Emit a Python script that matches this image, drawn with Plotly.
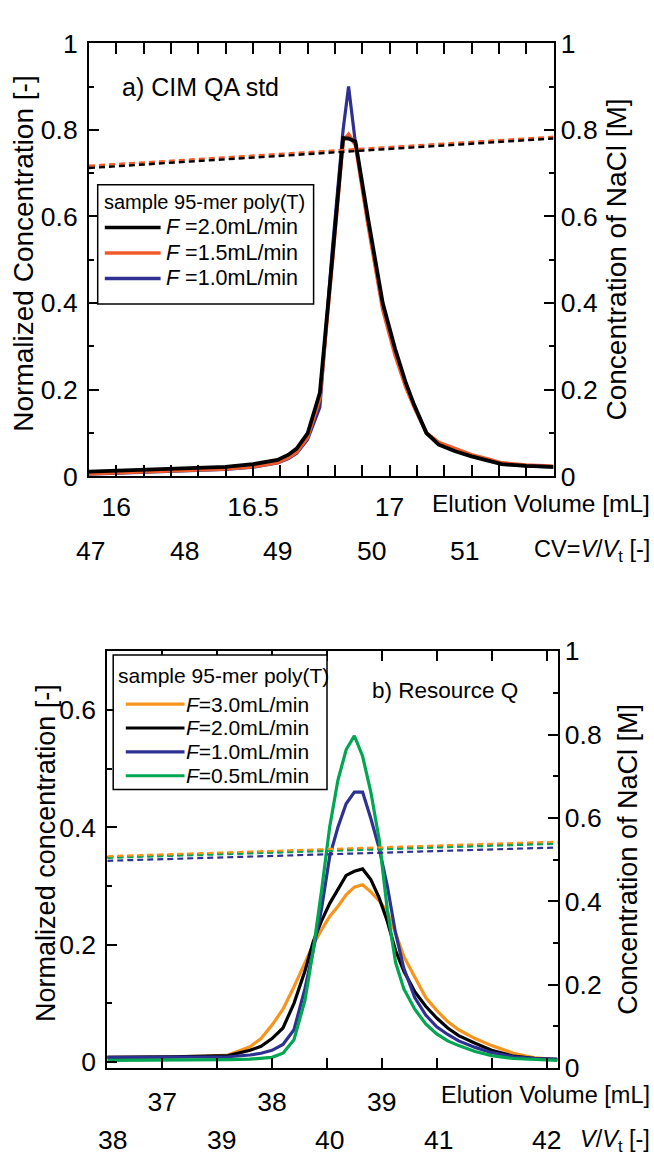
import plotly.graph_objects as go

# ---------------- data: panel a) CIM QA std ----------------
vol_a = [15.9, 16.0, 16.1, 16.2, 16.3, 16.4, 16.5, 16.55, 16.59, 16.63, 16.66, 16.70, 16.745,
         16.79, 16.83, 16.85, 16.875, 16.92, 16.975, 17.02, 17.06, 17.09, 17.135, 17.18, 17.24,
         17.3, 17.36, 17.41, 17.5, 17.6]
conc_a_20 = [.011, .013, .015, .017, .019, .022, .028, .033, .038, .05, .064, .099, .193, .50, .781,
             .78, .773, .60, .40, .295, .215, .165, .10, .073, .058, .046, .036, .028, .024, .022]
conc_a_15 = [.006, .008, .010, .012, .014, .017, .022, .027, .032, .043, .056, .09, .18, .49, .775,
             .79, .765, .585, .385, .28, .205, .16, .10, .078, .063, .05, .04, .031, .026, .023]
conc_a_10 = [.005, .007, .009, .011, .013, .016, .021, .026, .031, .041, .053, .085, .16, .52, .80,
             .90, .77, .59, .39, .285, .21, .162, .10, .075, .06, .047, .037, .029, .024, .021]
nacl_a_x = [15.9, 17.6]
nacl_a_20 = [0.712, 0.780]
nacl_a_15 = [0.717, 0.784]
flows_a = ["2.0", "1.5", "1.0"]
colors_a = ["#000000", "#f15a29", "#2e3192"]
xticks_a = [16, 16.5, 17]
xticktext_a = ["16", "16.5", "17"]
cv_ticks_a = [47, 48, 49, 50, 51]
vt_a = 0.342          # column volume [mL]
cv_offset_a = 0.167   # mL

# ---------------- data: panel b) Resource Q ----------------
vol_b = [36.5, 36.8, 37.1, 37.4, 37.6, 37.8, 37.9, 38.0, 38.1, 38.2, 38.3, 38.375, 38.45, 38.525,
         38.6, 38.675, 38.75, 38.825, 38.9, 38.975, 39.05, 39.125, 39.2, 39.3, 39.4, 39.5, 39.6,
         39.7, 39.85, 40.0, 40.2, 40.4, 40.6]
conc_b_30 = [.008, .008, .009, .010, .012, .026, .04, .063, .09, .128, .168, .20, .225, .248,
             .265, .285, .298, .302, .29, .275, .256, .22, .18, .145, .11, .088, .069, .055, .04,
             .028, .015, .007, .004]
conc_b_20 = [.008, .008, .009, .010, .011, .02, .027, .04, .058, .10, .155, .205, .24, .27,
             .295, .318, .325, .329, .311, .28, .24, .19, .155, .12, .095, .075, .058, .045, .032,
             .02, .01, .006, .004]
conc_b_10 = [.008, .008, .008, .008, .009, .012, .015, .02, .03, .055, .125, .19, .26, .35,
             .40, .44, .46, .46, .415, .365, .30, .22, .16, .11, .08, .06, .047, .036, .025,
             .016, .009, .006, .005]
conc_b_05 = [.003, .003, .003, .003, .004, .005, .006, .008, .015, .038, .105, .19, .29, .40,
             .48, .532, .556, .521, .46, .38, .26, .17, .125, .09, .065, .048, .036, .028, .018,
             .011, .006, .004, .003]
nacl_b_x = [36.5, 40.6]
nacl_b_30 = [0.508, 0.543]
nacl_b_20 = [0.506, 0.541]
nacl_b_10 = [0.497, 0.529]
nacl_b_05 = [0.504, 0.538]
flows_b = ["3.0", "2.0", "1.0", "0.5"]
colors_b = ["#f7941d", "#000000", "#2e3192", "#00a651"]
xticks_b = [37, 38, 39]
xticktext_b = ["37", "38", "39"]
vvt_ticks_b = [38, 39, 40, 41, 42]
vt_b = 0.988
vvt_offset_b = 0.995

# ---------------- figure ----------------
W, H = 654, 1167
FONT = "Liberation Sans, Arial, Helvetica, sans-serif"


def px(x):
    return x / W


def py(y):
    return 1 - y / H


fig = go.Figure()

# panel a solid curves (blue below, black on top)
for ys, col, wd in [(conc_a_10, colors_a[2], 3.2), (conc_a_15, colors_a[1], 3.6), (conc_a_20, colors_a[0], 3.8)]:
    fig.add_trace(go.Scatter(x=vol_a, y=ys, mode="lines", line=dict(color=col, width=wd),
                             xaxis="x", yaxis="y", showlegend=False))
for ys, col in [(nacl_a_15, colors_a[1]), (nacl_a_20, colors_a[0])]:
    fig.add_trace(go.Scatter(x=nacl_a_x, y=ys, mode="lines",
                             line=dict(color=col, width=2.4, dash="6px,4px"),
                             xaxis="x", yaxis="y2", showlegend=False))

# panel b
for ys, col in [(conc_b_30, colors_b[0]), (conc_b_20, colors_b[1]), (conc_b_10, colors_b[2]), (conc_b_05, colors_b[3])]:
    fig.add_trace(go.Scatter(x=vol_b, y=ys, mode="lines", line=dict(color=col, width=3.2),
                             xaxis="x2", yaxis="y3", showlegend=False))
for ys, col in [(nacl_b_20, colors_b[1]), (nacl_b_05, colors_b[3]), (nacl_b_30, colors_b[0]), (nacl_b_10, colors_b[2])]:
    fig.add_trace(go.Scatter(x=nacl_b_x, y=ys, mode="lines",
                             line=dict(color=col, width=2.2, dash="6px,4px"),
                             xaxis="x2", yaxis="y4", showlegend=False))

tickfont = dict(family=FONT, size=26.5, color="black")
common = dict(showgrid=False, zeroline=False, showline=True, linewidth=2, linecolor="black",
              ticks="inside", tickwidth=1.5, tickcolor="black", tickfont=tickfont)


def minor(d, ln):
    return dict(dtick=d, tick0=0, ticks="inside", ticklen=ln, tickwidth=1.5, tickcolor="black")


yt = [0, 0.2, 0.4, 0.6, 0.8, 1]
ytt = ["0", "0.2", "0.4", "0.6", "0.8", "1"]

fig.update_layout(
    width=W, height=H, autosize=False,
    margin=dict(l=0, r=0, t=0, b=0),
    paper_bgcolor="white", plot_bgcolor="white",
    font=dict(family=FONT, color="black"),
    xaxis=dict(domain=[px(89), px(553.5)], range=[15.9, 17.6], anchor="y",
               tickvals=xticks_a, ticktext=xticktext_a, ticklen=11, mirror="allticks",
               minor=minor(0.1, 6), ticklabelstandoff=6, **common),
    yaxis=dict(domain=[py(473.5), py(29)], range=[0, 1], anchor="x",
               tickvals=yt, ticktext=ytt, ticklen=10, minor=minor(0.1, 5),
               ticklabelstandoff=4, **common),
    yaxis2=dict(overlaying="y", side="right", anchor="x", range=[0, 1],
                tickvals=yt, ticktext=ytt, ticklen=10, minor=minor(0.1, 5), **common),
    xaxis2=dict(domain=[px(107.3), px(557.5)], range=[36.5, 40.6], anchor="y3",
                tickvals=xticks_b, ticktext=xticktext_b, ticklen=10, mirror="allticks",
                minor=minor(0.5, 6), ticklabelstandoff=9, **common),
    yaxis3=dict(domain=[py(1080.7), py(653)], range=[-0.01, 0.7], anchor="x2",
                tickvals=[0, 0.2, 0.4, 0.6], ticktext=["0", "0.2", "0.4", "0.6"], ticklen=10,
                minor=minor(0.1, 5), ticklabelstandoff=4, **common),
    yaxis4=dict(overlaying="y3", side="right", anchor="x2", range=[0, 1],
                tickvals=yt, ticktext=ytt, ticklen=10, minor=minor(0.1, 5), **common),
)

ann = []


def text(x, y, s, size, xanchor="left", angle=0, xref="paper"):
    ann.append(dict(x=x, y=y, xref=xref, yref="paper", text=s, showarrow=False,
                    xanchor=xanchor, yanchor="middle", textangle=angle,
                    font=dict(family=FONT, size=size, color="black")))


# axis titles
text(px(24), py(245), "Normalized Concentration [-]", 28, "center", -90)
text(px(617), py(251), "Concentration of NaCl [M]", 28, "center", -90)
text(px(46), py(860), "Normalized concentration [-]", 27, "center", -90)
text(px(628), py(867), "Concentration of NaCl [M]", 27, "center", -90)

# x-axis captions
text(px(652), py(501), "Elution Volume [mL]", 24.5, "right")
text(px(652), py(1108), "Elution Volume [mL]", 23.5, "right")
text(px(652), py(550), "CV=<i>V</i>/<i>V</i><sub>t</sub> [-]", 23.5, "right")
text(px(652), py(1155), "<i>V</i>/<i>V</i><sub>t</sub> [-]", 23.5, "right")

# secondary tick rows
for cv in cv_ticks_a:
    text(cv * vt_a - cv_offset_a, py(550), str(cv), 26.5, "center", xref="x")
for v in vvt_ticks_b:
    text(v * vt_b - vvt_offset_b, py(1155), str(v), 26.5, "center", xref="x2")

# panel labels
text(px(120), py(74), "a) CIM QA std", 25)
text(px(370), py(693), "b) Resource Q", 22.5)

shapes = []
# legend a
shapes.append(dict(type="rect", xref="paper", yref="paper", x0=px(97.7), x1=px(313.6),
                   y0=py(296.5), y1=py(174.3), line=dict(color="black", width=1.5),
                   fillcolor="white", layer="above"))
text(px(102), py(192), "sample 95-mer poly(T)", 20)
for i, (fl, col) in enumerate(zip(flows_a, colors_a)):
    yy = 218 + i * 26.2
    shapes.append(dict(type="line", xref="paper", yref="paper", x0=px(104.8), x1=px(160.6),
                       y0=py(yy), y1=py(yy), line=dict(color=col, width=3.5), layer="above"))
    text(px(164), py(yy), "<i>F</i> =" + fl + "mL/min", 21.5)

# legend b
shapes.append(dict(type="rect", xref="paper", yref="paper", x0=px(113.2), x1=px(327),
                   y0=py(795), y1=py(657), line=dict(color="black", width=1.5),
                   fillcolor="white", layer="above"))
text(px(116), py(678), "sample 95-mer poly(T)", 21)
for i, (fl, col) in enumerate(zip(flows_b, colors_b)):
    yy = 707.3 + i * 24.5
    shapes.append(dict(type="line", xref="paper", yref="paper", x0=px(125.8), x1=px(184.5),
                       y0=py(yy), y1=py(yy), line=dict(color=col, width=3.2), layer="above"))
    text(px(183.5), py(yy), "<i>F</i>=" + fl + "mL/min", 21)

fig.update_layout(annotations=ann, shapes=shapes)
fig.write_html("out.html", config={"displayModeBar": False},
               post_script="document.body.style.margin='0';document.body.style.padding='0';")
